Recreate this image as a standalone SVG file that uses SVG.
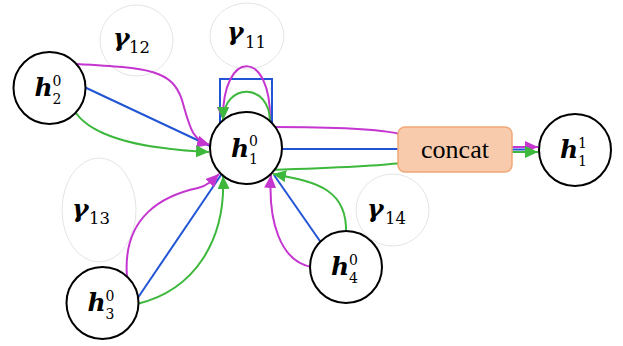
<svg xmlns="http://www.w3.org/2000/svg" width="623" height="346" viewBox="0 0 623 346">
  <style>
    .node { fill: #ffffff; stroke: #000000; stroke-width: 2; }
    .coef { fill: none; stroke: #d8d8d8; stroke-width: 0.7; }
    .hmain { font-family: "DejaVu Serif", "Liberation Serif", serif; font-weight: bold; font-style: italic; font-size: 25px; fill: #000; }
    .idx { font-family: "DejaVu Serif", "Liberation Serif", serif; font-size: 14px; fill: #000; }
    .gmain { font-family: "DejaVu Serif", "Liberation Serif", serif; font-weight: bold; font-style: italic; font-size: 25px; fill: #000; }
    .gidx { font-family: "DejaVu Serif", "Liberation Serif", serif; font-size: 16.5px; fill: #000; }
    .mag { fill: none; stroke: #c535d0; stroke-width: 2; }
    .blu { fill: none; stroke: #2255d5; stroke-width: 2; }
    .grn { fill: none; stroke: #3db83d; stroke-width: 2; }
    .box { fill: #f8cbad; stroke: #f0a878; stroke-width: 1.5; }
    .boxtxt { font-family: "Liberation Serif", "Times New Roman", serif; font-size: 26px; fill: #000; }
  </style>
  <defs>
    <marker id="arrMag" markerUnits="userSpaceOnUse" markerWidth="13" markerHeight="12" refX="13" refY="6" orient="auto">
      <path d="M0,0 L13,6 L0,12 z" fill="#c535d0"/>
    </marker>
    <marker id="arrGrn" markerUnits="userSpaceOnUse" markerWidth="13" markerHeight="12" refX="13" refY="6" orient="auto">
      <path d="M0,0 L13,6 L0,12 z" fill="#3db83d"/>
    </marker>
  </defs>

  <!-- attention coefficients -->
  <g id="gamma11">
    <ellipse class="coef" cx="247" cy="36" rx="37" ry="33"/>
    <text class="gmain" x="227" y="40">γ</text><text class="gidx" x="245" y="48">11</text>
  </g>
  <g id="gamma12">
    <ellipse class="coef" cx="136.5" cy="40.5" rx="36.5" ry="35.5"/>
    <text class="gmain" x="113" y="46">γ</text><text class="gidx" x="129" y="53">12</text>
  </g>
  <g id="gamma13">
    <ellipse class="coef" cx="99" cy="210" rx="37" ry="52"/>
    <text class="gmain" x="72" y="217">γ</text><text class="gidx" x="89" y="224">13</text>
  </g>
  <g id="gamma14">
    <ellipse class="coef" cx="392.5" cy="210" rx="36.5" ry="36"/>
    <text class="gmain" x="367" y="217">γ</text><text class="gidx" x="385" y="224">14</text>
  </g>

  <!-- connectors -->
  <g id="connectors">
    <!-- h2 -> h1 -->
    <path class="blu" d="M80,85 L210,146"/>
    <path class="mag" d="M76,64 C150,68 172,70 182,100 C190,128 192,140 210,145" marker-end="url(#arrMag)"/>
    <path class="grn" d="M76,113 C95,140 150,149 209,152" marker-end="url(#arrGrn)"/>
    <!-- self loop -->
    <path class="blu" d="M220,123 V79 H272 V123"/>
    <path class="mag" d="M270,122 C272,48 222,48 223,120" marker-end="url(#arrMag)"/>
    <path class="grn" d="M270,122 C270,82 224,82 223,120" marker-end="url(#arrGrn)"/>
    <!-- h3 -> h1 -->
    <path class="blu" d="M135,302 L221,175"/>
    <path class="mag" d="M127,277 C122,215 165,195 198,188 C207,186 213,180 219,174" marker-end="url(#arrMag)"/>
    <path class="grn" d="M137,304 C195,290 226,240 223,176" marker-end="url(#arrGrn)"/>
    <!-- h4 -> h1 -->
    <path class="blu" d="M322,244 L274,175"/>
    <path class="mag" d="M312,267 C280,262 268,220 271,175" marker-end="url(#arrMag)"/>
    <path class="grn" d="M346,234 C348,190 318,182 273,174" marker-end="url(#arrGrn)"/>
    <!-- h1 -> concat -->
    <path class="mag" d="M270,127 C340,127 380,129 400,134"/>
    <path class="blu" d="M280,149 L400,149"/>
    <path class="grn" d="M270,170 C330,168 380,166 400,163"/>
    <!-- concat -> h1^1 -->
    <path class="blu" d="M512,149.5 L530,149.5"/>
    <path class="mag" d="M512,147 L538,147" marker-end="url(#arrMag)"/>
    <path class="grn" d="M512,152 L538,152" marker-end="url(#arrGrn)"/>
  </g>

  <!-- nodes -->
  <g id="h1_0">
    <circle class="node" cx="246" cy="148" r="36"/>
    <text class="hmain" x="231" y="157">h</text><text class="idx" x="249" y="146">0</text><text class="idx" x="249" y="164">1</text>
  </g>
  <g id="h2_0">
    <circle class="node" cx="49.5" cy="88" r="36"/>
    <text class="hmain" x="34.5" y="96">h</text><text class="idx" x="52.5" y="86">0</text><text class="idx" x="52.5" y="104">2</text>
  </g>
  <g id="h3_0">
    <circle class="node" cx="102.5" cy="303" r="36"/>
    <text class="hmain" x="87.5" y="311">h</text><text class="idx" x="105.5" y="301">0</text><text class="idx" x="105.5" y="319">3</text>
  </g>
  <g id="h4_0">
    <circle class="node" cx="346" cy="267" r="36"/>
    <text class="hmain" x="331" y="275">h</text><text class="idx" x="349" y="265">0</text><text class="idx" x="349" y="283">4</text>
  </g>
  <g id="h1_1">
    <circle class="node" cx="575" cy="150" r="36"/>
    <text class="hmain" x="560" y="158">h</text><text class="idx" x="578" y="148">1</text><text class="idx" x="578" y="166">1</text>
  </g>
  <g id="concat">
    <rect class="box" x="398" y="127" width="114" height="45" rx="7"/>
    <text class="boxtxt" x="455" y="158" text-anchor="middle">concat</text>
  </g>
</svg>
